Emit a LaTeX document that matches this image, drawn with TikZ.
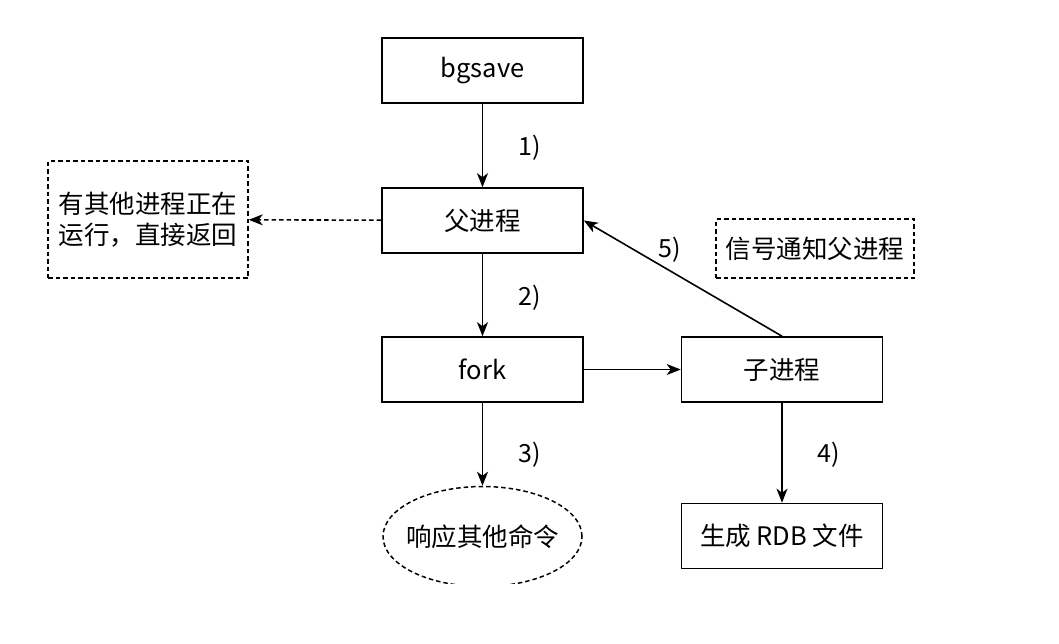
\documentclass[tikz,border=0pt]{standalone}
\usepackage{fontspec}
\setmainfont{Noto Sans CJK SC}
\usetikzlibrary{shapes.geometric,arrows.meta}
\tikzset{
  box/.style={draw, line width=1.6pt, minimum width=201pt, minimum height=65pt, inner sep=0pt, font=\fontsize{25.5}{28}\selectfont},
  dbox/.style={draw, line width=1.5pt, dash pattern=on 4.5pt off 3pt, inner sep=0pt, font=\fontsize{25.5}{31}\selectfont, align=left},
  arr/.style={-{Stealth[length=14pt,width=11pt,inset=4pt]}, line width=1.6pt},
  lbl/.style={font=\fontsize{25}{28}\selectfont}
}
\begin{document}
\begin{tikzpicture}[x=1pt,y=-1pt]
\useasboundingbox (0,0) rectangle (1059,643);
\node[box] (bg) at (482.5,70.5) {bgsave};
\node[box] (fu) at (482.5,220.5) {父进程};
\node[box] (fork) at (482.5,369.5) {fork};
\node[box] (zi) at (782,369.5) {子进程};
\node[box] (rdb) at (782,536) {生成 RDB 文件};
\node[dbox, minimum width=200pt, minimum height=117pt] (ret) at (148,219.5) {有其他进程正在\\运行，直接返回};
\node[dbox, minimum width=198pt, minimum height=59pt] (sig) at (815,248.5) {信号通知父进程};
\begin{scope}
\clip (300,470) rectangle (700,583);
\node[ellipse, draw, line width=1.5pt, dash pattern=on 4.5pt off 3pt, minimum width=199pt, minimum height=100pt, inner sep=0pt] (resp) at (482.5,536.5) {};
\end{scope}
\node[font=\fontsize{25.5}{28}\selectfont] at (resp.center) {响应其他命令};
\draw[arr] (bg) -- (fu);
\draw[arr] (fu) -- (fork);
\draw[arr] (fork) -- (zi);
\draw[arr] (fork) -- (resp);
\draw[arr] (zi) -- (rdb);
\draw[arr, dash pattern=on 4.5pt off 3pt] (fu) -- (ret);
\draw[arr] (zi.north) -- (fu.east);
\node[lbl] at (530,148) {1)};
\node[lbl] at (530,298) {2)};
\node[lbl] at (530,455) {3)};
\node[lbl] at (829,455) {4)};
\node[lbl] at (670,250) {5)};
\end{tikzpicture}
\end{document}
